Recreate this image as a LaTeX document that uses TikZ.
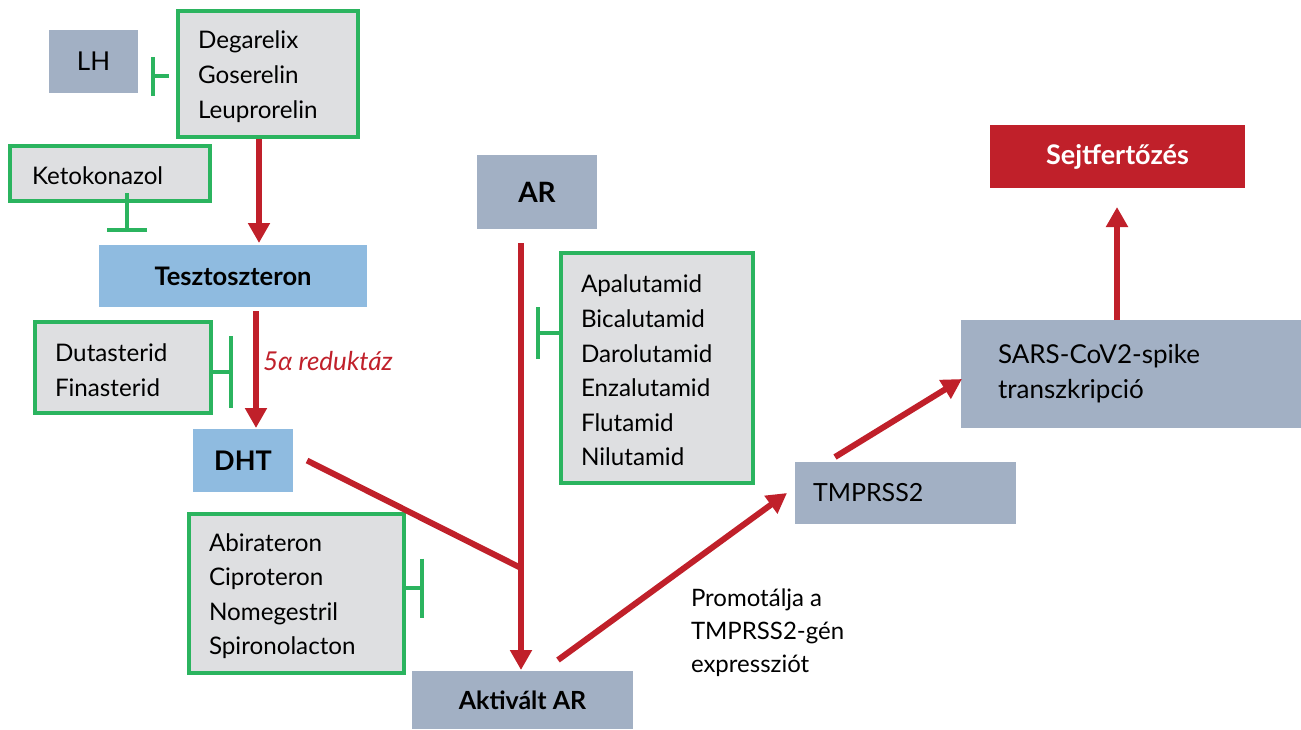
\documentclass[tikz,border=0pt]{standalone}
\usepackage{fontspec}
\setmainfont{Lato}
\usetikzlibrary{arrows.meta,calc}
\definecolor{boxgray}{RGB}{162,176,196}
\definecolor{boxblue}{RGB}{143,187,224}
\definecolor{drugfill}{RGB}{222,223,225}
\definecolor{drugline}{RGB}{43,180,95}
\definecolor{redc}{RGB}{192,32,42}
\begin{document}
\begin{tikzpicture}[x=1pt,y=-1pt,
  every node/.style={inner sep=0pt, outer sep=0pt},
  graybox/.style={fill=boxgray, font=\fontsize{25}{30}\selectfont},
  grayboxb/.style={fill=boxgray, font=\fontsize{25}{30}\selectfont\bfseries},
  bluebox/.style={fill=boxblue, font=\fontsize{25.5}{30}\selectfont\bfseries},
  redbox/.style={fill=redc, text=white, font=\fontsize{27}{30}\selectfont\bfseries},
  drugbox/.style={draw=drugline, line width=3.5pt, fill=drugfill, align=left, inner ysep=0pt, font=\fontsize{24.2}{34.6}\selectfont, execute at begin node={\rule{0pt}{23pt}}},
  act/.style={draw=redc, line width=6pt, -{Triangle[length=20pt,width=21pt]}},
  plainline/.style={draw=redc, line width=6pt},
  inhib/.style={draw=drugline, line width=4pt, -{Bar[width=#1]}},
]
\useasboundingbox (0,0) rectangle (1301,729);

% nodes
\node[graybox, font=\fontsize{26}{30}\selectfont, minimum width=89pt, minimum height=63pt] (lh) at (93.5,61.5) {LH};
\node[drugbox, minimum width=180pt, minimum height=126pt, text width=140pt, inner xsep=20pt] (deg) at (268,74) {Degarelix\\Goserelin\\Leuprorelin};
\node[drugbox, minimum width=200pt, minimum height=55pt, text width=156pt, inner xsep=22pt] (keto) at (110,173.5) {Ketokonazol};
\node[bluebox, minimum width=268pt, minimum height=62pt] (tes) at (233,276) {Tesztoszteron};
\node[drugbox, minimum width=176pt, minimum height=91pt, text width=136pt, inner xsep=20pt] (dut) at (123,367.5) {Dutasterid\\Finasterid};
\node[anchor=west, text=redc, font=\fontsize{26}{30}\selectfont\itshape] (enz) at (263,361) {5α reduktáz};
\node[bluebox, font=\fontsize{27}{30}\selectfont\bfseries, minimum width=100pt, minimum height=63pt] (dht) at (243,460.5) {DHT};
\node[grayboxb, font=\fontsize{28}{30}\selectfont\bfseries, minimum width=120pt, minimum height=74pt] (ar) at (537,192) {AR};
\node[drugbox, minimum width=192pt, minimum height=230pt, text width=152pt, inner xsep=20pt] (apa) at (657,368) {Apalutamid\\Bicalutamid\\Darolutamid\\Enzalutamid\\Flutamid\\Nilutamid};
\node[drugbox, minimum width=215pt, minimum height=159pt, text width=175pt, inner xsep=20pt] (abi) at (296.5,593.5) {Abirateron\\Ciproteron\\Nomegestril\\Spironolacton};
\node[grayboxb, minimum width=221pt, minimum height=58pt] (akt) at (522.5,700) {Aktivált AR};
\node[graybox, align=left, minimum width=221pt, minimum height=62pt, text width=185pt, inner xsep=18pt] (tmp) at (905.5,493) {TMPRSS2};
\node[graybox, align=left, minimum width=340pt, minimum height=108pt, text width=266pt, inner xsep=37pt, font=\fontsize{26}{35}\selectfont] (sars) at (1131,374) {SARS-CoV2-spike\\transzkripció};
\node[redbox, minimum width=255pt, minimum height=63pt] (sejt) at (1117.5,156.5) {Sejtfertőzés};
\node[anchor=west, align=left, font=\fontsize{24}{33}\selectfont] (promo) at (691,633) {Promotálja a\\TMPRSS2-gén\\expressziót};

% activating connectors
\draw[act, shorten <=2pt, shorten >=2pt] ([xshift=-9pt]deg.south) -- ([xshift=-9pt]deg.south |- tes.north);
\draw[act, shorten <=4pt, shorten >=1pt] ([xshift=13pt]dht.north |- tes.south) -- ([xshift=13pt]dht.north);
\coordinate (j) at ($(ar.south)+(-16,339)$);
\draw[plainline] ($(dht.east)+(14,0)$) -- (j);
\draw[act, shorten <=14pt, shorten >=1pt] ([xshift=-16pt]ar.south) -- ([xshift=-16pt]ar.south |- akt.north);
\draw[act] ($(akt.north)+(35.5,-11)$) -- ($(tmp.west)+(-8,0)$);
\draw[act] ($(tmp.north)+(-70.5,-5)$) -- ($(sars.west)+(1,5)$);
\draw[act, shorten >=19pt] ([xshift=-14pt]sars.north) -- ([xshift=-14pt]sars.north |- sejt.south);

% inhibiting connectors
\draw[inhib=39pt] ($(deg.west)+(-9,2)$) -- ($(lh.east)+(13,14.5)$);
\draw[inhib=40pt] ($(keto.south)+(17,-8)$) -- ($(tes.north)+(-106,-13)$);
\draw[inhib=72pt] ($(dut.east)+(0,4.5)$) -- ($(dut.east)+(22,4.5)$);
\draw[inhib=52pt] ($(apa.west)+(0,-35)$) -- ($(apa.west)+(-25,-35)$);
\draw[inhib=59pt] ($(abi.east)+(0,-5.5)$) -- ($(abi.east)+(20,-5.5)$);
\end{tikzpicture}
\end{document}
